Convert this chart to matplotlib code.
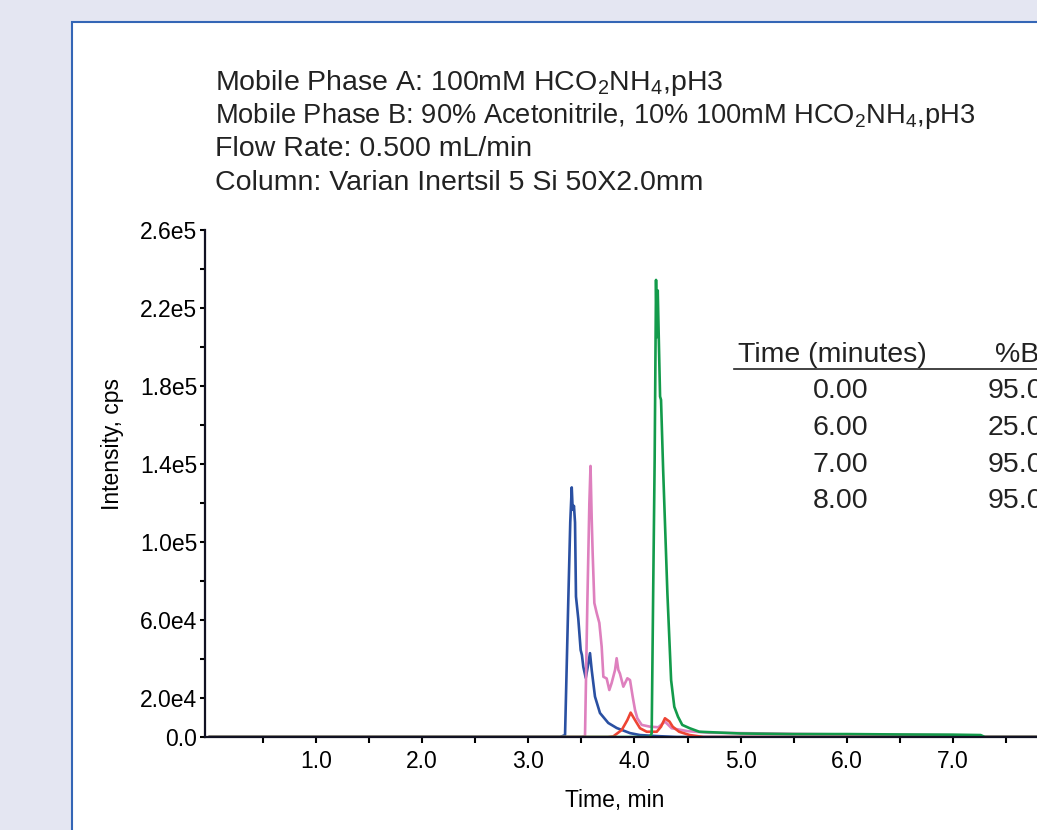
import matplotlib
matplotlib.use("Agg")
import matplotlib.pyplot as plt
from matplotlib.patches import Rectangle
from matplotlib.ticker import FixedLocator

plt.rcParams['font.family'] = ['Liberation Sans', 'DejaVu Sans']

# ---- data (time in min, intensity in cps) ----
blue_t = [0.0, 3.30, 3.346, 3.376, 3.395, 3.409, 3.418, 3.430, 3.440, 3.449, 3.471,
          3.493, 3.505, 3.518, 3.541, 3.560, 3.581, 3.597, 3.628, 3.675, 3.753,
          3.833, 3.958, 4.052, 4.20, 4.40, 8.0]
blue_i = [0, 0, 1000, 68700, 110000, 128000, 116500, 118500, 110000, 72000, 60500,
          44600, 42000, 36000, 30300, 36000, 43000, 34400, 20700, 12300, 7200,
          4600, 2000, 1000, 500, 0, 0]

pink_t = [0.0, 3.50, 3.534, 3.556, 3.575, 3.586, 3.597, 3.606, 3.622, 3.644, 3.669,
          3.691, 3.707, 3.738, 3.763, 3.785, 3.817, 3.832, 3.848, 3.863, 3.895,
          3.933, 3.958, 3.983, 4.005, 4.027, 4.068, 4.146, 4.225, 4.287, 4.35,
          4.50, 4.70, 5.00, 5.50, 6.00, 6.50, 7.00, 7.13, 7.20, 8.0]
pink_i = [0, 0, 500, 68600, 120000, 139000, 112000, 94400, 68700, 63600, 58500,
          46300, 30900, 30000, 24100, 27700, 34400, 40400, 34400, 32500, 25800,
          30100, 29200, 20700, 13900, 9600, 6200, 5300, 5000, 7900, 4500,
          3000, 2200, 2000, 1600, 1300, 1100, 900, 600, 0, 0]

red_t = [0.0, 3.75, 3.80, 3.88, 3.933, 3.964, 4.005, 4.052, 4.115, 4.21, 4.25,
         4.287, 4.33, 4.36, 4.42, 4.52, 4.65, 8.0]
red_i = [0, 0, 300, 3600, 8700, 12500, 8700, 4500, 2700, 2700, 5300,
         9600, 7900, 5300, 2700, 1000, 0, 0]

green_t = [0.0, 4.12, 4.146, 4.162, 4.176, 4.19, 4.203, 4.210, 4.219, 4.241, 4.25,
           4.27, 4.31, 4.345, 4.375, 4.41, 4.45, 4.52, 4.61, 5.00, 5.50, 6.00,
           6.50, 7.00, 7.26, 7.30, 8.0]
green_i = [0, 0, 0, 1900, 73900, 142000, 234400, 205000, 229000, 174600, 172900,
           137000, 73700, 29200, 15500, 10400, 6200, 4500, 2700, 1800, 1500, 1500,
           1300, 1200, 1000, 0, 0]

header = [
    "Mobile Phase A: 100mM HCO$_\\mathregular{2}$NH$_\\mathregular{4}$,pH3",
    "Mobile Phase B: 90% Acetonitrile, 10% 100mM HCO$_\\mathregular{2}$NH$_\\mathregular{4}$,pH3",
    "Flow Rate: 0.500 mL/min",
    "Column: Varian Inertsil 5 Si 50X2.0mm",
]
header_size = [20.5, 19.6, 20.5, 20.5]
grad_times = ["0.00", "6.00", "7.00", "8.00"]
grad_b = ["95.00", "25.00", "95.00", "95.00"]

x_major = [1, 2, 3, 4, 5, 6, 7, 8]
x_minor = [0.5, 1.5, 2.5, 3.5, 4.5, 5.5, 6.5, 7.5]
y_major = [0, 2e4, 6e4, 1e5, 1.4e5, 1.8e5, 2.2e5, 2.6e5]
y_major_lbl = ["0.0", "2.0e4", "6.0e4", "1.0e5", "1.4e5", "1.8e5", "2.2e5", "2.6e5"]
y_minor = [4e4, 8e4, 1.2e5, 1.6e5, 2.0e5, 2.4e5]

W, H = 1037, 830
fig = plt.figure(figsize=(W / 100, H / 100), dpi=100, facecolor='#e4e6f2')

def fx(px):
    return px / W

def fy(py):
    return (H - py) / H

# white panel with blue border (only top/left edges visible)
panel = Rectangle((fx(72), -0.2), 1.5, fy(22) + 0.2, transform=fig.transFigure,
                  facecolor='white', edgecolor='#3466b6', linewidth=1.5, zorder=-10)
fig.patches.append(panel)

x_left, x_right = -0.045, 8.0
px_per_min = 106.17
ax_left_px = 209.8 + x_left * px_per_min
ax_right_px = 209.8 + x_right * px_per_min
ax = fig.add_axes([fx(ax_left_px), fy(737), (ax_right_px - ax_left_px) / W, 507 / H])
ax.set_facecolor('none')
ax.set_zorder(5)

lw = 1.9
ax.plot(blue_t, blue_i, color='#2a50a2', lw=lw, zorder=3)
ax.plot(pink_t, pink_i, color='#de80be', lw=lw, zorder=4)
ax.plot(red_t, red_i, color='#ee4434', lw=lw, zorder=4)
ax.plot(green_t, green_i, color='#139b4b', lw=lw, zorder=5)

ax.set_xlim(x_left, x_right)
ax.set_ylim(0, 2.6e5)

for s in ['top', 'right']:
    ax.spines[s].set_visible(False)
for s in ['left', 'bottom']:
    ax.spines[s].set_linewidth(1.6)
    ax.spines[s].set_color('#111122')
ax.spines['bottom'].set_zorder(6)

ax.xaxis.set_major_locator(FixedLocator(x_major))
ax.xaxis.set_minor_locator(FixedLocator(x_minor))
ax.set_xticklabels([f"{v:.1f}" for v in x_major])
ax.yaxis.set_major_locator(FixedLocator(y_major))
ax.yaxis.set_minor_locator(FixedLocator(y_minor))
ax.set_yticklabels(y_major_lbl)

ax.tick_params(axis='x', which='both', direction='out', length=4.5, width=1.5,
               labelsize=16.5, pad=5)
ax.tick_params(axis='y', which='both', direction='out', length=3.5, width=1.5,
               labelsize=16.5, pad=2)

fig.text(fx(615), fy(800), "Time, min", fontsize=16.5, ha='center', va='center')
fig.text(fx(112), fy(444), "Intensity, cps", fontsize=16.5, rotation=90,
         ha='center', va='center')

# method header
for k, line in enumerate(header):
    fig.text(fx(215), fy(90 + 33.2 * k), line, fontsize=header_size[k], ha='left',
             va='baseline', color='#222222')

# gradient table
fig.text(fx(738), fy(361.5), "Time (minutes)", fontsize=20.5, ha='left', va='baseline',
         color='#222222')
fig.text(fx(995), fy(361.5), "%B", fontsize=20.5, ha='left', va='baseline',
         color='#222222')
fig.add_artist(plt.Line2D([fx(734), 1.05], [fy(369.3), fy(369.3)],
                          transform=fig.transFigure, color='#222222', lw=1.2))
for k in range(len(grad_times)):
    yb = fy(398.3 + 36.7 * k)
    fig.text(fx(868), yb, grad_times[k], fontsize=20.5, ha='right', va='baseline',
             color='#222222')
    fig.text(fx(988), yb, grad_b[k], fontsize=20.5, ha='left', va='baseline',
             color='#222222')

fig.savefig("out.png", dpi=100, facecolor=fig.get_facecolor())
